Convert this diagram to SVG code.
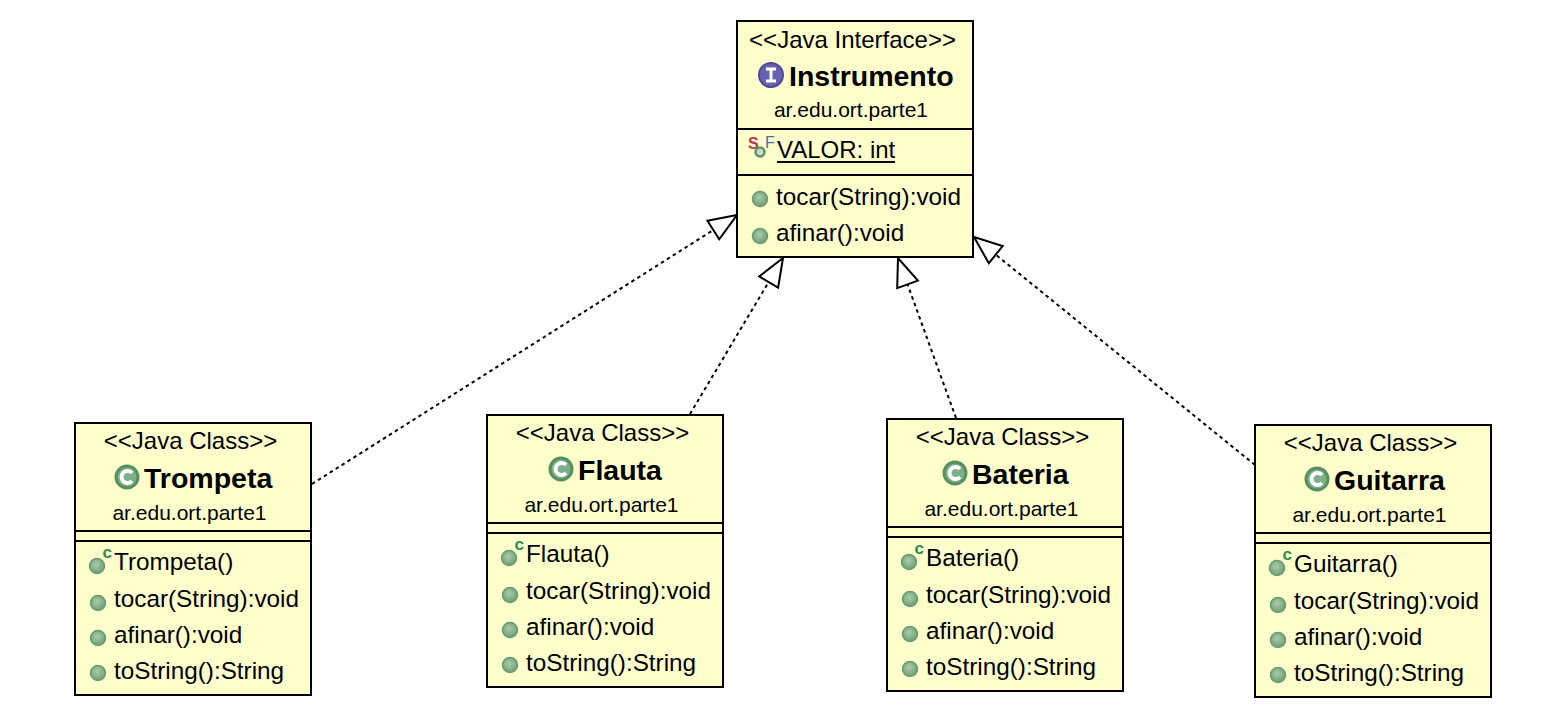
<svg xmlns="http://www.w3.org/2000/svg" width="1566" height="712" viewBox="0 0 1566 712">
<style>
text{font-family:"Liberation Sans",Arial,sans-serif;font-size:24px;fill:#000}
.c{text-anchor:middle}
.t{font-weight:bold;font-size:28.5px}
.p{font-size:21px}
.f{font-size:24.3px}
.box{fill:#ffffcc;stroke:#000;stroke-width:2}
.div{stroke:#000;stroke-width:2}
.conn{fill:none;stroke:#000;stroke-width:2;stroke-dasharray:3.5 3.5;marker-end:url(#tri)}
</style>
<defs>
<marker id="tri" markerUnits="userSpaceOnUse" markerWidth="34" markerHeight="30" refX="31" refY="15" orient="auto">
<path d="M31 15 L3 4 L3 26 Z" fill="#fff" stroke="#000" stroke-width="2"/>
</marker>
<radialGradient id="g" cx=".45" cy=".4" r=".6"><stop offset="0" stop-color="#a9cba9"/><stop offset="1" stop-color="#6f9f76"/></radialGradient>
<circle id="m" r="7.500" fill="url(#g)" stroke="#6a9a72" stroke-width="1.5"/>
<g id="ci"><circle r="11" fill="#7fae8a" stroke="#55905f" stroke-width="3"/><path d="M5 -4 A6 6 0 1 0 5 4" fill="none" stroke="#fff" stroke-width="4"/></g>
<g id="cm"><use href="#m"/><text x="5.500" y="-8" style="font-size:17px;font-weight:bold;fill:#2f8a4f">c</text></g>
</defs>
<g id="connectors">
<path class="conn" d="M312 484L737 215"/>
<path class="conn" d="M690 414L783 258"/>
<path class="conn" d="M956 418L898 258"/>
<path class="conn" d="M1255 465L974 237"/>
</g>
<g id="instrumento">
<rect class="box" x="737" y="21" width="236" height="236"/>
<path class="div" d="M737 129H973M737 175H973"/>
<text class="c" x="852.500" y="48">&lt;&lt;Java Interface&gt;&gt;</text>
<circle cx="771" cy="75" r="12" fill="#6a60b0" stroke="#4f4a98" stroke-width="2"/>
<path d="M766 69H776M771 69V81M766 81H776" stroke="#fff" stroke-width="3" fill="none"/>
<text class="t" x="789" y="86">Instrumento</text>
<text class="c p" x="851" y="116.500">ar.edu.ort.parte1</text>
<text x="748" y="149" style="font-size:16px;font-weight:bold;fill:#b03a5a">S</text>
<circle cx="760" cy="152" r="4.500" fill="#c5dcc5" stroke="#5f9268" stroke-width="2.500"/>
<text x="765" y="148" style="font-size:16px;fill:#4a6fb0">F</text>
<text x="777" y="158">VALOR: int</text>
<path d="M777 162H895" stroke="#000" stroke-width="2"/>
<use href="#m" x="760" y="199"/><text class="f" x="776" y="204.500">tocar(String):void</text>
<use href="#m" x="760" y="236"/><text class="f" x="776" y="240.500">afinar():void</text>
</g>
<g id="trompeta" transform="translate(75 423)">
<rect class="box" width="236" height="272"/>
<path class="div" d="M0 108H236M0 118H236"/>
<text class="c" x="115.500" y="26">&lt;&lt;Java Class&gt;&gt;</text>
<use href="#ci" x="52" y="54"/>
<text class="t" x="69" y="65">Trompeta</text>
<text class="c p" x="114.500" y="96.500">ar.edu.ort.parte1</text>
<use href="#cm" x="22" y="143"/><text class="f" x="39" y="147">Trompeta()</text>
<use href="#m" x="23" y="180"/><text class="f" x="39" y="184">tocar(String):void</text>
<use href="#m" x="23" y="215"/><text class="f" x="39" y="220">afinar():void</text>
<use href="#m" x="23" y="250"/><text class="f" x="39" y="256">toString():String</text>
</g>
<g id="flauta" transform="translate(487 415)">
<rect class="box" width="236" height="272"/>
<path class="div" d="M0 108H236M0 118H236"/>
<text class="c" x="115.500" y="26">&lt;&lt;Java Class&gt;&gt;</text>
<use href="#ci" x="74" y="54"/>
<text class="t" x="91" y="65">Flauta</text>
<text class="c p" x="114.500" y="96.500">ar.edu.ort.parte1</text>
<use href="#cm" x="22" y="143"/><text class="f" x="39" y="147">Flauta()</text>
<use href="#m" x="23" y="180"/><text class="f" x="39" y="184">tocar(String):void</text>
<use href="#m" x="23" y="215"/><text class="f" x="39" y="220">afinar():void</text>
<use href="#m" x="23" y="250"/><text class="f" x="39" y="256">toString():String</text>
</g>
<g id="bateria" transform="translate(887 419)">
<rect class="box" width="236" height="272"/>
<path class="div" d="M0 108H236M0 118H236"/>
<text class="c" x="115.500" y="26">&lt;&lt;Java Class&gt;&gt;</text>
<use href="#ci" x="68" y="54"/>
<text class="t" x="85" y="65">Bateria</text>
<text class="c p" x="114.500" y="96.500">ar.edu.ort.parte1</text>
<use href="#cm" x="22" y="143"/><text class="f" x="39" y="147">Bateria()</text>
<use href="#m" x="23" y="180"/><text class="f" x="39" y="184">tocar(String):void</text>
<use href="#m" x="23" y="215"/><text class="f" x="39" y="220">afinar():void</text>
<use href="#m" x="23" y="250"/><text class="f" x="39" y="256">toString():String</text>
</g>
<g id="guitarra" transform="translate(1255 425)">
<rect class="box" width="236" height="272"/>
<path class="div" d="M0 108H236M0 118H236"/>
<text class="c" x="115.500" y="26">&lt;&lt;Java Class&gt;&gt;</text>
<use href="#ci" x="62" y="54"/>
<text class="t" x="79" y="65">Guitarra</text>
<text class="c p" x="114.500" y="96.500">ar.edu.ort.parte1</text>
<use href="#cm" x="22" y="143"/><text class="f" x="39" y="147">Guitarra()</text>
<use href="#m" x="23" y="180"/><text class="f" x="39" y="184">tocar(String):void</text>
<use href="#m" x="23" y="215"/><text class="f" x="39" y="220">afinar():void</text>
<use href="#m" x="23" y="250"/><text class="f" x="39" y="256">toString():String</text>
</g>
</svg>
